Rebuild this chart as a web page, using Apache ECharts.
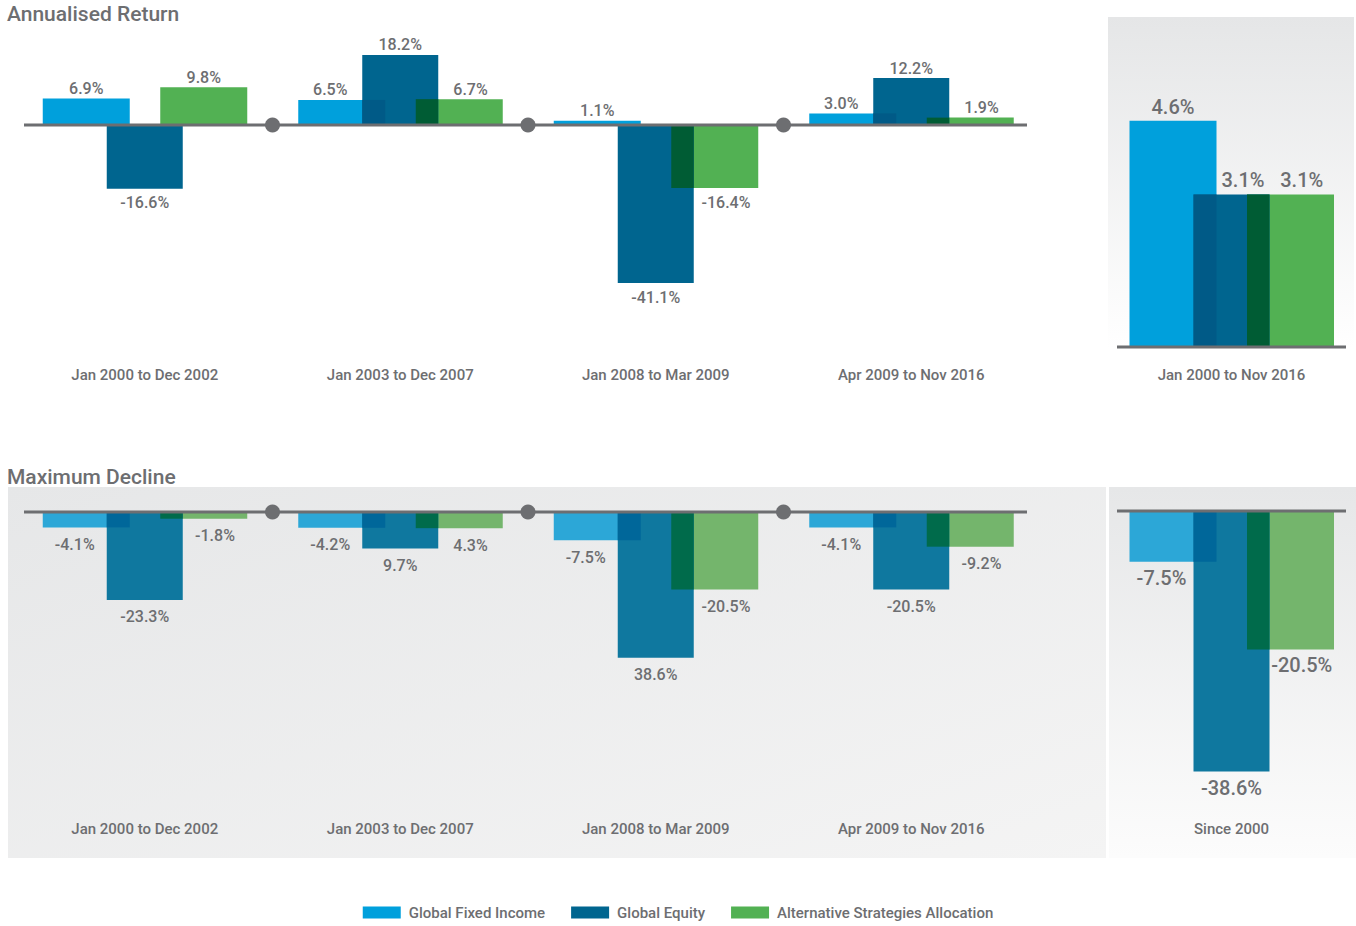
<!DOCTYPE html>
<html>
<head>
<meta charset="utf-8">
<script src="https://cdn.jsdelivr.net/npm/echarts@6/dist/echarts.min.js"></script>
<style>
  html, body { margin: 0; padding: 0; background: #ffffff; }
  #chart { width: 1356px; height: 926px; }
</style>
</head>
<body>
<div id="chart"></div>
<script>
// ---- data ----
const seriesNames = ['Global Fixed Income', 'Global Equity', 'Alternative Strategies Allocation'];

const periods = ['Jan 2000 to Dec 2002', 'Jan 2003 to Dec 2007', 'Jan 2008 to Mar 2009', 'Apr 2009 to Nov 2016'];
const returnFixedIncome = [6.9, 6.5, 1.1, 3.0];
const returnEquity = [-16.6, 18.2, -41.1, 12.2];
const returnAlternatives = [9.8, 6.7, -16.4, 1.9];

const fullPeriod = ['Jan 2000 to Nov 2016'];
const fullReturnFixedIncome = [4.6];
const fullReturnEquity = [3.1];
const fullReturnAlternatives = [3.1];

const declineFixedIncome = [-4.1, -4.2, -7.5, -4.1];
const declineEquity = [-23.3, -9.7, -38.6, -20.5];
const declineAlternatives = [-1.8, -4.3, -20.5, -9.2];
// printed decline labels (a few are published without their minus sign)
const declineFixedIncomeText = ['-4.1%', '-4.2%', '-7.5%', '-4.1%'];
const declineEquityText = ['-23.3%', '9.7%', '38.6%', '-20.5%'];
const declineAlternativesText = ['-1.8%', '4.3%', '-20.5%', '-9.2%'];

const sincePeriod = ['Since 2000'];
const sinceDeclineFixedIncome = [-7.5];
const sinceDeclineEquity = [-38.6];
const sinceDeclineAlternatives = [-20.5];

// ---- styling ----
const FONT = "Roboto, 'Liberation Sans', sans-serif";
const GREY = '#6d6e71';
const TOP_COLORS = { bars: ['#00a0dc', '#00658f', '#52b153'], overlap: ['#005a87', null, '#005c34'] };
const LOW_COLORS = { bars: ['#2ca7d7', '#0f789f', '#74b56c'], overlap: ['#00679a', null, '#006b4b'] };
// bar offset from the group centre and bar width, in pixels (fixed income, equity, alternatives)
const OFFSET = [-58.5, 0, 59];
const WIDTH = [87, 76, 87];

const fmt = v => v.toFixed(1) + '%';

const panels = [
  {
    cats: periods, vals: [returnFixedIncome, returnEquity, returnAlternatives], texts: null,
    grid: { left: 17, top: 48, width: 1022, height: 250 }, min: -45, max: 20,
    colors: TOP_COLORS, labelSize: 16, gapUp: 10, gapDown: 14, catMargin: 69,
    lineInset: [7, 12], dots: true
  },
  {
    cats: fullPeriod, vals: [fullReturnFixedIncome, fullReturnEquity, fullReturnAlternatives], texts: null,
    grid: { left: 1117, top: 101, width: 229, height: 246 }, min: 0, max: 5,
    colors: TOP_COLORS, labelSize: 20, gapUp: 14, gapDown: 16, catMargin: 20,
    lineInset: [0, 0], dots: false
  },
  {
    cats: periods, vals: [declineFixedIncome, declineEquity, declineAlternatives],
    texts: [declineFixedIncomeText, declineEquityText, declineAlternativesText],
    grid: { left: 17, top: 493, width: 1022, height: 189 }, min: -45, max: 5,
    colors: LOW_COLORS, labelSize: 16, gapUp: 10, gapDown: 17, catMargin: 139,
    lineInset: [7, 12], dots: true
  },
  {
    cats: sincePeriod, vals: [sinceDeclineFixedIncome, sinceDeclineEquity, sinceDeclineAlternatives], texts: null,
    grid: { left: 1117, top: 511, width: 229, height: 270 }, min: -40, max: 0,
    colors: LOW_COLORS, labelSize: 20, gapUp: 14, gapDown: 16, catMargin: 40,
    lineInset: [0, 0], dots: false
  }
];

// Draws bar k of one group; the equity series also draws the overlap
// shading, the zero line and the period separators.
function makeRenderer(panel, k) {
  return function (params, api) {
    const cat = api.value(0);
    const vals = [api.value(1), api.value(2), api.value(3)];
    const base = api.coord([cat, 0]);
    const cx = base[0], y0 = base[1];
    const rectOf = j => {
      const yv = api.coord([cat, vals[j]])[1];
      return { x: cx + OFFSET[j] - WIDTH[j] / 2, y: Math.min(y0, yv), width: WIDTH[j], height: Math.abs(yv - y0) };
    };
    const rects = [rectOf(0), rectOf(1), rectOf(2)];
    const r = rects[k];
    const children = [{ type: 'rect', shape: r, style: { fill: panel.colors.bars[k] } }];

    if (k === 1) {
      [0, 2].forEach(j => {
        if (vals[j] * vals[1] > 0) {
          const o = rects[j];
          const x1 = Math.max(o.x, r.x), x2 = Math.min(o.x + o.width, r.x + r.width);
          const h = Math.min(o.height, r.height);
          children.push({
            type: 'rect', z2: 5,
            shape: { x: x1, y: vals[1] > 0 ? y0 - h : y0, width: x2 - x1, height: h },
            style: { fill: panel.colors.overlap[j] }
          });
        }
      });
      const cs = params.coordSys;
      if (params.dataIndex === 0) {
        children.push({
          type: 'line', z2: 100,
          shape: { x1: cs.x + panel.lineInset[0], y1: y0, x2: cs.x + cs.width - panel.lineInset[1], y2: y0 },
          style: { stroke: GREY, lineWidth: 3 }
        });
      }
      if (panel.dots && params.dataIndex > 0) {
        const bw = api.size([1, 0])[0];
        children.push({
          type: 'circle', z2: 101,
          shape: { cx: cx - bw / 2, cy: y0, r: 7.5 },
          style: { fill: GREY }
        });
      }
    }

    // label position: centred on the part of the bar not covered by a neighbour
    let left = r.x, right = r.x + r.width;
    const same = j => vals[j] * vals[k] > 0;
    if (k === 0 && same(1) && Math.abs(vals[1]) >= Math.abs(vals[0])) right = rects[1].x;
    if (k === 2 && same(1) && Math.abs(vals[1]) >= Math.abs(vals[2])) left = rects[1].x + rects[1].width;
    if (k === 1) {
      if (same(0) && Math.abs(vals[0]) > Math.abs(vals[1])) left = rects[0].x + rects[0].width;
      if (same(2) && Math.abs(vals[2]) > Math.abs(vals[1])) right = rects[2].x;
    }
    const v = vals[k];
    const text = panel.texts ? panel.texts[k][params.dataIndex] : fmt(v);
    children.push({
      type: 'text', z2: 50,
      style: {
        x: (left + right) / 2,
        y: v >= 0 ? r.y - panel.gapUp : r.y + r.height + panel.gapDown,
        text: text, align: 'center', verticalAlign: 'middle',
        fill: GREY, fontSize: panel.labelSize, fontWeight: 500, fontFamily: FONT
      }
    });
    return { type: 'group', children: children };
  };
}

const grids = [], xAxes = [], yAxes = [], series = [];
panels.forEach((p, pi) => {
  grids.push(p.grid);
  xAxes.push({
    type: 'category', gridIndex: pi, data: p.cats,
    axisLine: { show: false, onZero: false }, axisTick: { show: false }, splitLine: { show: false },
    axisLabel: { margin: p.catMargin, color: GREY, fontSize: 15, fontWeight: 500, fontFamily: FONT }
  });
  yAxes.push({ type: 'value', gridIndex: pi, min: p.min, max: p.max, show: false, splitLine: { show: false } });
  const data = p.cats.map((c, i) => [i, p.vals[0][i], p.vals[1][i], p.vals[2][i]]);
  // fixed income and alternatives first, equity last so its overlaps sit on top
  [0, 2, 1].forEach(k => {
    series.push({
      type: 'custom', name: seriesNames[k], xAxisIndex: pi, yAxisIndex: pi,
      data: data, encode: { x: 0, y: [1, 2, 3] }, clip: false, silent: true,
      itemStyle: { color: p.colors.bars[k] },
      renderItem: makeRenderer(p, k)
    });
  });
});

const chart = echarts.init(document.getElementById('chart'), null, { renderer: 'svg' });
chart.setOption({
  animation: false,
  backgroundColor: '#ffffff',
  title: [
    { text: 'Annualised Return', left: 7, top: 3, padding: 0,
      textStyle: { color: GREY, fontSize: 21, fontWeight: 500, fontFamily: FONT } },
    { text: 'Maximum Decline', left: 7, top: 466, padding: 0,
      textStyle: { color: GREY, fontSize: 21, fontWeight: 500, fontFamily: FONT } }
  ],
  legend: {
    data: seriesNames, left: 'center', top: 900, icon: 'rect',
    itemWidth: 38, itemHeight: 12, itemGap: 26, selectedMode: false,
    textStyle: { color: GREY, fontSize: 15, fontWeight: 500, fontFamily: FONT, padding: [0, 0, 0, 3] }
  },
  graphic: [
    { type: 'rect', z: -1, silent: true, shape: { x: 8, y: 487, width: 1098, height: 371 },
      style: { fill: { type: 'linear', x: 0, y: 0, x2: 1, y2: 1,
        colorStops: [{ offset: 0, color: '#e6e7e8' }, { offset: 1, color: '#f4f4f4' }] } } },
    { type: 'rect', z: -1, silent: true, shape: { x: 1109, y: 487, width: 247, height: 371 },
      style: { fill: { type: 'linear', x: 0, y: 0, x2: 0, y2: 1,
        colorStops: [{ offset: 0, color: '#e6e7e8' }, { offset: 1, color: '#fcfcfc' }] } } },
    { type: 'rect', z: -1, silent: true, shape: { x: 1108, y: 17, width: 246, height: 331 },
      style: { fill: { type: 'linear', x: 0, y: 0, x2: 0, y2: 1,
        colorStops: [{ offset: 0, color: '#e5e6e7' }, { offset: 1, color: '#ffffff' }] } } }
  ],
  grid: grids,
  xAxis: xAxes,
  yAxis: yAxes,
  series: series
});
</script>
</body>
</html>
